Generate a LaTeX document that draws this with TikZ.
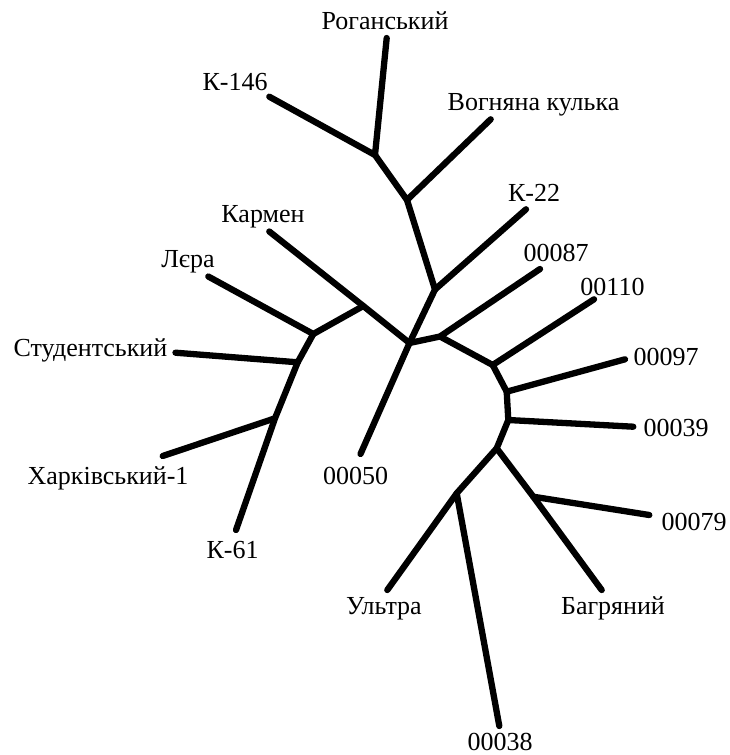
\documentclass[tikz,border=0pt]{standalone}
\usepackage{fontspec}
\setmainfont{Liberation Serif}
\begin{document}
\begin{tikzpicture}[x=1pt,y=-1pt,
  branch/.style={line width=6.3pt,line cap=round,line join=round},
  lbl/.style={anchor=base,inner sep=0pt,font=\fontsize{26}{29}\selectfont}]
\useasboundingbox[fill=white] (0,0) rectangle (729,755);
% junctions
\coordinate (A) at (375,155);
\coordinate (B) at (407,200);
\coordinate (C) at (435,289.5);
\coordinate (D) at (409.5,343);
\coordinate (E) at (363.3,306);
\coordinate (F) at (313.3,334);
\coordinate (I) at (297.7,362.3);
\coordinate (J) at (275,418.3);
\coordinate (G) at (440,336.5);
\coordinate (H) at (492.7,365);
\coordinate (K) at (506.7,391.7);
\coordinate (L) at (508.3,420);
\coordinate (M) at (496.7,448.3);
\coordinate (N) at (533.3,496.7);
\coordinate (O) at (456.7,493.3);
% leaves
\coordinate (lRog) at (386.7,38);
\coordinate (lK146) at (269.3,96.7);
\coordinate (lVog) at (490.7,119.3);
\coordinate (lK22) at (526,209.3);
\coordinate (lKar) at (269.3,231.5);
\coordinate (lLer) at (208.3,276.5);
\coordinate (lStu) at (175.5,352.7);
\coordinate (lKha) at (162.7,456);
\coordinate (lK61) at (236,530);
\coordinate (l50) at (360.5,454);
\coordinate (l87) at (540,269);
\coordinate (l110) at (594,299.3);
\coordinate (l97) at (625,359.3);
\coordinate (l39) at (633.3,426.7);
\coordinate (l79) at (649.3,515);
\coordinate (lBag) at (601.7,590);
\coordinate (lUlt) at (387.3,590);
\coordinate (l38) at (499.3,726);
% branches
\draw[branch] (lRog) -- (A) -- (lK146);
\draw[branch] (A) -- (B) -- (lVog);
\draw[branch] (B) -- (C) -- (lK22);
\draw[branch] (C) -- (D);
\draw[branch] (D) -- (E) -- (lKar);
\draw[branch] (E) -- (F) -- (lLer);
\draw[branch] (F) -- (I) -- (lStu);
\draw[branch] (I) -- (J) -- (lKha);
\draw[branch] (J) -- (lK61);
\draw[branch] (D) -- (l50);
\draw[branch] (D) -- (G) -- (l87);
\draw[branch] (G) -- (H) -- (l110);
\draw[branch] (H) -- (K) -- (l97);
\draw[branch] (K) -- (L) -- (l39);
\draw[branch] (L) -- (M) -- (N) -- (l79);
\draw[branch] (N) -- (lBag);
\draw[branch] (M) -- (O) -- (lUlt);
\draw[branch] (O) -- (l38);
% labels
\node[lbl] (tRog) at (385,29) {Роганський};
\node[lbl] (tK146) at (235,90.5) {К-146};
\node[lbl] (tVog) at (533.5,110) {Вогняна кулька};
\node[lbl] (tK22) at (534,201) {К-22};
\node[lbl] (tKar) at (263,222) {Кармен};
\node[lbl] (tLer) at (188,267) {Лєра};
\node[lbl] (tStu) at (90.5,356) {Студентський};
\node[lbl] (tKha) at (108,484) {Харківський-1};
\node[lbl] (tK61) at (232.5,558) {К-61};
\node[lbl] (t50) at (355.5,484) {00050};
\node[lbl] (t87) at (556,261) {00087};
\node[lbl] (t110) at (612.5,295) {00110};
\node[lbl] (t97) at (666,365) {00097};
\node[lbl] (t39) at (676,436) {00039};
\node[lbl] (t79) at (694,530) {00079};
\node[lbl] (tBag) at (613,614) {Багряний};
\node[lbl] (tUlt) at (384,614) {Ультра};
\node[lbl] (t38) at (500,750) {00038};
\end{tikzpicture}
\end{document}
